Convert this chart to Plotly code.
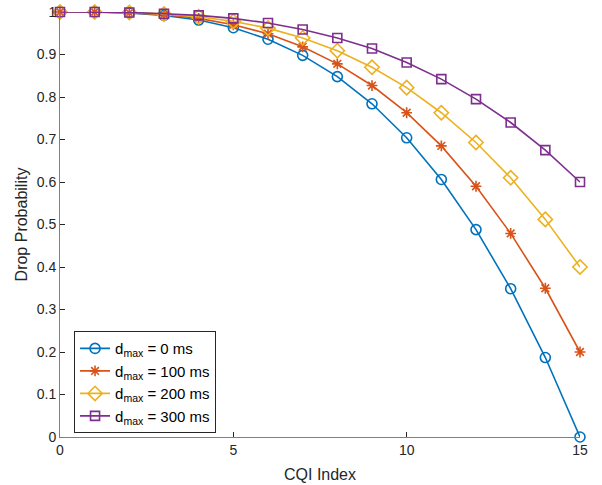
import plotly.graph_objects as go

cqi = list(range(16))
p_0ms = [1.0, 1.0, 0.998, 0.992, 0.981, 0.963, 0.936, 0.898, 0.848, 0.784, 0.704, 0.606, 0.488, 0.349, 0.187, 0.0]
p_100ms = [1.0, 1.0, 0.998, 0.994, 0.985, 0.970, 0.949, 0.918, 0.878, 0.827, 0.763, 0.685, 0.590, 0.479, 0.350, 0.2]
p_200ms = [1.0, 1.0, 0.999, 0.995, 0.989, 0.978, 0.962, 0.939, 0.909, 0.870, 0.822, 0.763, 0.693, 0.610, 0.512, 0.4]
p_300ms = [1.0, 1.0, 0.999, 0.996, 0.992, 0.985, 0.974, 0.959, 0.939, 0.914, 0.881, 0.842, 0.795, 0.740, 0.675, 0.6]

names = ["d<sub>max</sub> = 0 ms", "d<sub>max</sub> = 100 ms", "d<sub>max</sub> = 200 ms", "d<sub>max</sub> = 300 ms"]
colors = ["#0072BD", "#D95319", "#EDB120", "#7E2F8E"]
symbols = ["circle-open", "asterisk-open", "diamond-open", "square-open"]
sizes = [10, 9, 11, 9]
series = [p_0ms, p_100ms, p_200ms, p_300ms]

FONT = "Liberation Sans, Arial, sans-serif"

fig = go.Figure()
for ys, n, c, s, sz in zip(series, names, colors, symbols, sizes):
    fig.add_trace(go.Scatter(
        x=cqi, y=ys, name=n, mode="lines+markers",
        line=dict(color=c, width=1.6),
        marker=dict(symbol=s, size=sz, color=c, line=dict(color=c, width=1.6)),
        cliponaxis=False,
    ))

axis_common = dict(
    showline=True, linecolor="#808080", linewidth=1,
    ticks="inside", ticklen=5, tickcolor="#262626", tickwidth=1,
    showgrid=False, zeroline=False, mirror=False, automargin=False,
    ticklabeloverflow="allow",
    tickfont=dict(family=FONT, size=14, color="#262626"),
    title_font=dict(family=FONT, size=16, color="#262626"),
)

fig.update_layout(
    width=602, height=485,
    margin=dict(l=60, r=22, t=12, b=48),
    paper_bgcolor="white", plot_bgcolor="white",
    font=dict(family=FONT, color="#262626"),
    xaxis=dict(range=[0, 15], tickvals=[0, 5, 10, 15], title=dict(text="CQI Index", standoff=12), **axis_common),
    yaxis=dict(range=[0, 1], tickvals=[i / 10 for i in range(11)],
               ticktext=["0", "0.1", "0.2", "0.3", "0.4", "0.5", "0.6", "0.7", "0.8", "0.9", "1"],
               title=dict(text="Drop Probability", standoff=5), **axis_common),
    legend=dict(x=0.027, y=0.009, xanchor="left", yanchor="bottom",
                bordercolor="#262626", borderwidth=1, bgcolor="white",
                font=dict(family=FONT, size=15, color="#000000"),
                itemwidth=30),
    showlegend=True,
)

fig.write_html("out.html", config={"displayModeBar": False},
               post_script="document.body.style.margin='0px';")
